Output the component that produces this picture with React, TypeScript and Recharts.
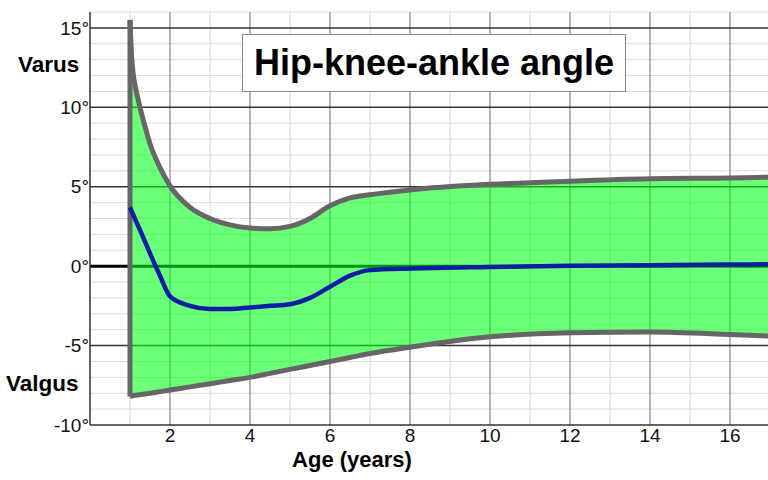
import { ComposedChart, Area, Line, XAxis, YAxis, ReferenceLine } from "recharts";

// age in years
const ages = [1, 1.04, 1.08, 1.15, 1.25, 1.375, 1.5, 1.75, 2, 2.5, 3, 3.5, 4, 4.5, 5, 5.5, 6, 6.5, 7, 8, 10, 12, 14, 16, 17];
// upper / lower limit of normal range, degrees (positive = varus)
const upperLimit = [15.5, 13.2, 12.1, 11.1, 10.0, 8.8, 7.7, 6.2, 5.05, 3.7, 3.0, 2.6, 2.4, 2.35, 2.5, 3.0, 3.8, 4.3, 4.5, 4.8, 5.15, 5.35, 5.5, 5.55, 5.6];
const lowerLimit = [-8.2, -8.18, -8.15, -8.12, -8.1, -8.05, -8.0, -7.9, -7.8, -7.6, -7.4, -7.2, -7.0, -6.75, -6.5, -6.25, -6.0, -5.75, -5.5, -5.1, -4.45, -4.2, -4.15, -4.3, -4.4];
const meanAngle = [3.7, 3.47, 3.24, 2.84, 2.27, 1.55, 0.8, -0.6, -1.9, -2.5, -2.7, -2.7, -2.6, -2.5, -2.4, -2.0, -1.3, -0.6, -0.25, -0.15, -0.05, 0.02, 0.05, 0.1, 0.12];

const xTicks = [2, 4, 6, 8, 10, 12, 14, 16];
const yTicks = [-10, -5, 0, 5, 10, 15];
const minorYears = [1, 3, 5, 7, 9, 11, 13, 15];
const majorYears = [2, 4, 6, 8, 10, 12, 14, 16];
const minorDegrees = [-9, -8, -7, -6, -4, -3, -2, -1, 1, 2, 3, 4, 6, 7, 8, 9, 11, 12, 13, 14, 16];
const majorDegrees = [-5, 5, 10, 15];

const FONT = '"Liberation Sans", Arial, sans-serif';

const data = ages.map((age, i) => ({
  age,
  range: [lowerLimit[i], upperLimit[i]],
  mean: meanAngle[i],
}));

export default function App() {
  return (
    <div style={{ position: "absolute", left: 0, top: 0, width: 768, height: 480, background: "#fff", fontFamily: FONT, overflow: "hidden" }}>
      <ComposedChart width={768} height={480} data={data} margin={{ top: 12, right: 0, left: 0, bottom: 0 }}>
        <XAxis
          dataKey="age"
          type="number"
          domain={[0, 16.95]}
          allowDataOverflow
          ticks={xTicks}
          height={55}
          tickSize={0}
          tickMargin={4}
          tick={{ fill: "#111", fontSize: 19, fontFamily: FONT }}
          axisLine={{ stroke: "#333", strokeWidth: 1.5 }}
          label={{ value: "Age (years)", position: "insideBottom", offset: 13, dx: -77, style: { fontWeight: 700, fontSize: 22, fill: "#000", fontFamily: FONT } }}
        />
        <YAxis
          type="number"
          domain={[-10, 16]}
          ticks={yTicks}
          width={90}
          tickSize={0}
          tickMargin={1}
          tickFormatter={(v: number) => `${v}°`}
          tick={{ fill: "#111", fontSize: 19, fontFamily: FONT }}
          axisLine={{ stroke: "#333", strokeWidth: 1.5 }}
        />
        {minorYears.map((x) => (
          <ReferenceLine key={`mx${x}`} x={x} stroke="#d6d6d6" strokeWidth={1} zIndex={-60} />
        ))}
        {minorDegrees.map((y) => (
          <ReferenceLine key={`my${y}`} y={y} stroke="#dcdcdc" strokeWidth={1} zIndex={-60} />
        ))}
        {majorYears.map((x) => (
          <ReferenceLine key={`Mx${x}`} x={x} stroke="#6e6e6e" strokeWidth={1} zIndex={-55} />
        ))}
        {majorDegrees.map((y) => (
          <ReferenceLine key={`My${y}`} y={y} stroke="#333" strokeWidth={1.5} zIndex={-55} />
        ))}
        <ReferenceLine y={0} stroke="#000" strokeWidth={3} zIndex={-50} />
        <Area
          dataKey="range"
          type="monotone"
          stroke="#666"
          strokeWidth={5}
          fill="#00ff1a"
          fillOpacity={0.58}
          isAnimationActive={false}
        />
        <ReferenceLine
          segment={[{ x: ages[0], y: lowerLimit[0] }, { x: ages[0], y: upperLimit[0] }]}
          stroke="#666"
          strokeWidth={5}
        />
        <Line
          dataKey="mean"
          type="monotone"
          stroke="#0c1ea3"
          strokeWidth={4.5}
          dot={false}
          isAnimationActive={false}
        />
      </ComposedChart>
      <div style={{ position: "absolute", left: 18, top: 52, fontSize: 22.5, fontWeight: 700, color: "#000" }}>Varus</div>
      <div style={{ position: "absolute", left: 6, top: 371, fontSize: 22.5, fontWeight: 700, color: "#000" }}>Valgus</div>
      <div
        style={{
          position: "absolute",
          left: 242,
          top: 34,
          width: 382,
          height: 56,
          background: "#fff",
          border: "1px solid #888",
          display: "flex",
          alignItems: "center",
          justifyContent: "center",
          fontSize: 36,
          fontWeight: 700,
          color: "#000",
        }}
      >
        Hip-knee-ankle angle
      </div>
    </div>
  );
}
